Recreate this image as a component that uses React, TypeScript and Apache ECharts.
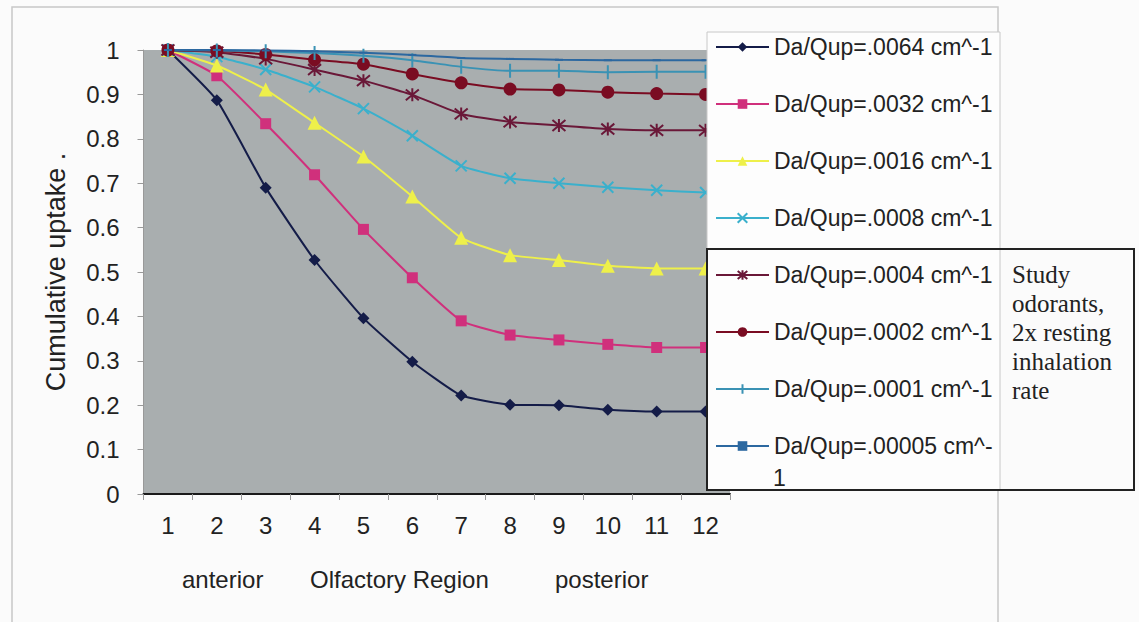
import React, { useEffect, useRef } from "react";
import * as echarts from "echarts";

const categories = ["1", "2", "3", "4", "5", "6", "7", "8", "9", "10", "11", "12"];

const seriesNames = [
  "Da/Qup=.0064 cm^-1",
  "Da/Qup=.0032 cm^-1",
  "Da/Qup=.0016 cm^-1",
  "Da/Qup=.0008 cm^-1",
  "Da/Qup=.0004 cm^-1",
  "Da/Qup=.0002 cm^-1",
  "Da/Qup=.0001 cm^-1",
  "Da/Qup=.00005 cm^-1",
];

const s0064 = [1, 0.887, 0.69, 0.527, 0.396, 0.298, 0.222, 0.201, 0.2, 0.19, 0.186, 0.186];
const s0032 = [1, 0.942, 0.834, 0.719, 0.596, 0.487, 0.39, 0.358, 0.347, 0.337, 0.33, 0.33];
const s0016 = [1, 0.965, 0.911, 0.836, 0.76, 0.67, 0.577, 0.538, 0.527, 0.514, 0.508, 0.508];
const s0008 = [1, 0.985, 0.956, 0.917, 0.868, 0.807, 0.739, 0.711, 0.7, 0.691, 0.684, 0.679];
const s0004 = [1, 0.995, 0.98, 0.956, 0.931, 0.899, 0.856, 0.838, 0.83, 0.822, 0.819, 0.819];
const s0002 = [1, 0.998, 0.99, 0.978, 0.968, 0.946, 0.926, 0.912, 0.91, 0.905, 0.902, 0.9];
const s0001 = [1, 0.999, 0.997, 0.993, 0.987, 0.977, 0.962, 0.953, 0.953, 0.95, 0.951, 0.951];
const s00005 = [1, 1, 0.999, 0.997, 0.994, 0.989, 0.982, 0.98, 0.978, 0.977, 0.977, 0.977];

const seriesData = [s0064, s0032, s0016, s0008, s0004, s0002, s0001, s00005];

const colors = ["#141c48", "#d0307c", "#eef04a", "#3ab0cc", "#6a1838", "#7a0c22", "#3a92b4", "#2c68a0"];
const symbols = [
  "diamond",
  "rect",
  "triangle",
  "path://M0,0L10,10M10,0L0,10",
  "path://M0,0L10,10M10,0L0,10M5,-1L5,11",
  "circle",
  "path://M0,5L10,5M5,0L5,10",
  "rect",
];
const symbolSizes: any[] = [12, 11, 14, 11, 13, 13, [2, 14], [8, 2]];
const strokeSymbol = [false, false, false, true, true, false, true, false];

export default function App() {
  const ref = useRef<HTMLDivElement>(null);
  useEffect(() => {
    const chart = echarts.init(ref.current!, null, { renderer: "svg" });
    const font = "'Liberation Sans', Arial, sans-serif";
    const series = seriesNames.map((name, i) => ({
      name,
      type: "line",
      data: seriesData[i],
      smooth: 0.15,
      symbol: symbols[i],
      symbolSize: symbolSizes[i],
      showSymbol: true,
      z: 2,
      lineStyle: { color: colors[i], width: 2 },
      itemStyle: strokeSymbol[i]
        ? { color: colors[i], borderColor: colors[i], borderWidth: 2 }
        : { color: colors[i], borderWidth: 0 },
    }));
    chart.setOption({
      animation: false,
      backgroundColor: "#fbfbfb",
      grid: {
        left: 143.5,
        right: 1139 - 730,
        top: 50,
        bottom: 622 - 494,
        show: true,
        backgroundColor: "#a9aeaf",
        borderWidth: 0,
      },
      xAxis: {
        type: "category",
        data: categories,
        boundaryGap: true,
        axisLine: { lineStyle: { color: "#1a1a1a", width: 2 } },
        axisTick: { show: true, length: 6, lineStyle: { color: "#999" } },
        axisLabel: { color: "#222", fontSize: 24, fontFamily: font, margin: 19 },
      },
      yAxis: {
        type: "value",
        min: 0,
        max: 1,
        interval: 0.1,
        name: "Cumulative uptake .",
        nameLocation: "middle",
        nameGap: 74,
        nameTextStyle: { color: "#222", fontSize: 27, fontFamily: font },
        axisLine: { show: true, lineStyle: { color: "#999" } },
        axisTick: { show: true, length: 6, lineStyle: { color: "#999" } },
        splitLine: { show: false },
        axisLabel: { color: "#222", fontSize: 24, fontFamily: font, margin: 24 },
      },
      legend: {
        orient: "vertical",
        left: 715,
        top: 35.5,
        padding: 0,
        itemGap: 34,
        itemWidth: 53,
        itemHeight: 12,
        z: 20,
        textStyle: { color: "#222", fontSize: 23, fontFamily: font, padding: [0, 0, 0, 0] },
        formatter: (n: string) => (n === "Da/Qup=.00005 cm^-1" ? "Da/Qup=.00005 cm^-" : n),
        data: seriesNames,
      },
      graphic: [
        {
          type: "rect",
          z: 0,
          silent: true,
          shape: { x: 12, y: 7, width: 986, height: 640 },
          style: { fill: "none", stroke: "#c8c8c8", lineWidth: 1.5 },
        },
        {
          type: "rect",
          z: 10,
          silent: true,
          shape: { x: 707, y: 32, width: 293, height: 458 },
          style: { fill: "#fdfdfd", stroke: "#c8c8c8", lineWidth: 1 },
        },
        {
          type: "rect",
          z: 11,
          silent: true,
          shape: { x: 707, y: 249, width: 427, height: 241 },
          style: { fill: "none", stroke: "#222", lineWidth: 2 },
        },
        {
          type: "text",
          z: 21,
          left: 773,
          top: 466,
          style: { text: "1", fill: "#222", font: `23px ${font}` },
        },
        {
          type: "text",
          z: 21,
          left: 1012,
          top: 260,
          style: {
            text: "Study\nodorants,\n2x resting\ninhalation\nrate",
            fill: "#222",
            font: "25px 'Liberation Serif', 'Times New Roman', serif",
            lineHeight: 29,
          },
        },
        {
          type: "text",
          z: 21,
          left: 182,
          top: 567,
          style: { text: "anterior", fill: "#222", font: `24px ${font}` },
        },
        {
          type: "text",
          z: 21,
          left: 310,
          top: 567,
          style: { text: "Olfactory Region", fill: "#222", font: `24px ${font}` },
        },
        {
          type: "text",
          z: 21,
          left: 555,
          top: 567,
          style: { text: "posterior", fill: "#222", font: `24px ${font}` },
        },
      ],
      series,
    });
    return () => chart.dispose();
  }, []);
  return (
    <div
      ref={ref}
      style={{ position: "fixed", left: 0, top: 0, width: 1139, height: 622 }}
    />
  );
}
